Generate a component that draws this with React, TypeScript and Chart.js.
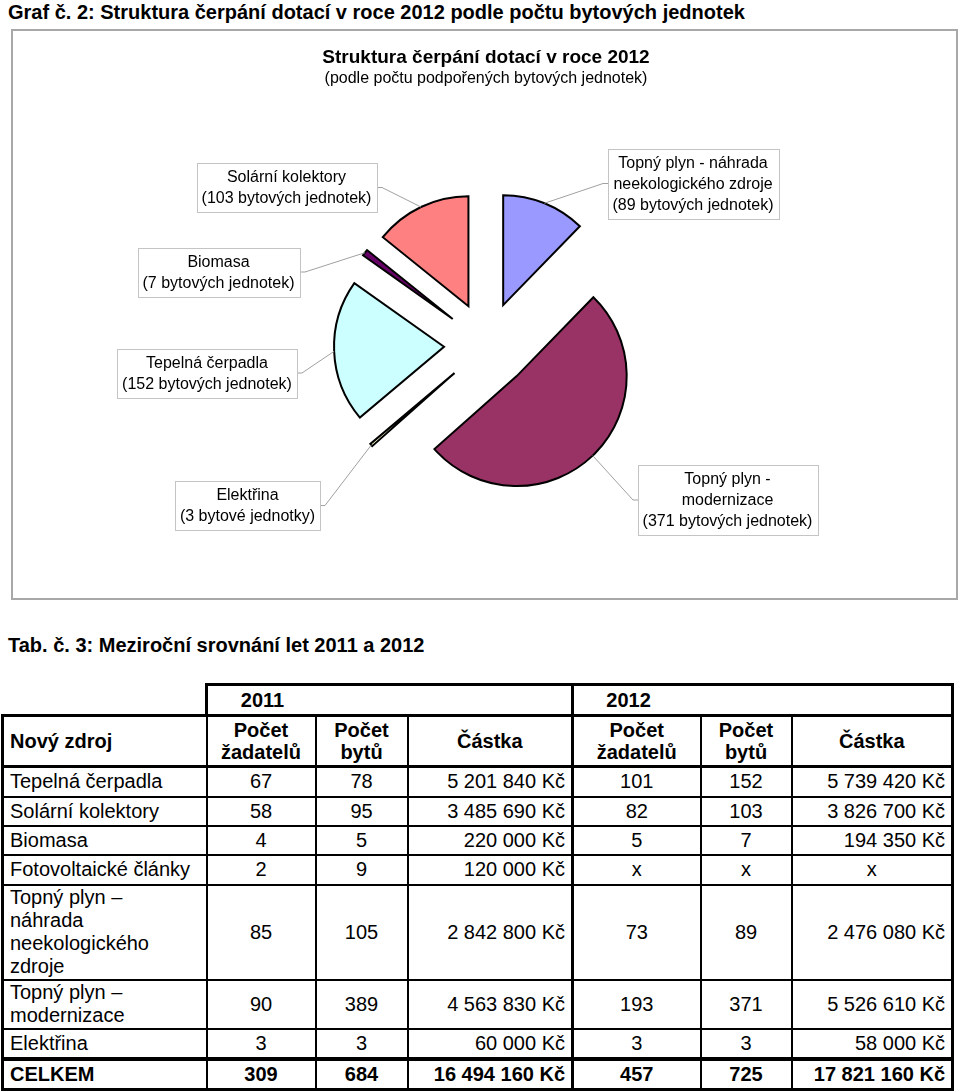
import React, { useEffect, useRef } from "react";
import { Chart, registerables } from "chart.js";

Chart.register(...registerables);

// ---------- Chart data ----------
const pageHeading = "Graf č. 2: Struktura čerpání dotací v roce 2012 podle počtu bytových jednotek";
const chartTitle = "Struktura čerpání dotací v roce 2012";
const chartSubtitle = "(podle počtu podpořených bytových jednotek)";

const categories = [
  "Topný plyn - náhrada neekologického zdroje",
  "Topný plyn - modernizace",
  "Elektřina",
  "Tepelná čerpadla",
  "Biomasa",
  "Solární kolektory",
];
const categoryLabelLines = [
  ["Topný plyn - náhrada", "neekologického zdroje"],
  ["Topný plyn -", "modernizace"],
  ["Elektřina"],
  ["Tepelná čerpadla"],
  ["Biomasa"],
  ["Solární kolektory"],
];
const unitCounts = [89, 371, 3, 152, 7, 103];
const unitWords = [
  "bytových jednotek",
  "bytových jednotek",
  "bytové jednotky",
  "bytových jednotek",
  "bytových jednotek",
  "bytových jednotek",
];

// ---------- Table data ----------
const tableHeading = "Tab. č. 3: Meziroční srovnání let 2011 a 2012";
const years = ["2011", "2012"];
const sourceColumnTitle = "Nový zdroj";
const subColumnTitles = ["Počet\nžadatelů", "Počet\nbytů", "Částka"];
const sources = [
  "Tepelná čerpadla",
  "Solární kolektory",
  "Biomasa",
  "Fotovoltaické články",
  "Topný plyn –\nnáhrada\nneekologického\nzdroje",
  "Topný plyn –\nmodernizace",
  "Elektřina",
];
const applicants2011 = [67, 58, 4, 2, 85, 90, 3];
const flats2011 = [78, 95, 5, 9, 105, 389, 3];
const amounts2011 = [5201840, 3485690, 220000, 120000, 2842800, 4563830, 60000];
const applicants2012 = [101, 82, 5, null, 73, 193, 3];
const flats2012 = [152, 103, 7, null, 89, 371, 3];
const amounts2012 = [5739420, 3826700, 194350, null, 2476080, 5526610, 58000];
const totalLabel = "CELKEM";
const totals2011 = [309, 684, 16494160];
const totals2012 = [457, 725, 17821160];

// ---------- Layout / style (not data) ----------
const FONT = '"Liberation Sans", Arial, Helvetica, sans-serif';
const sliceColors = ["#9999ff", "#993366", "#ffffcc", "#ccffff", "#660066", "#ff8080"];
const EXPLODE = 43;
const LABEL_LINE_H = 21;
const labelBoxes = [
  { cx: 693, cy: 183.5, side: "right" },
  { cx: 727.5, cy: 500, side: "right" },
  { cx: 247.5, cy: 505.5, side: "left" },
  { cx: 207, cy: 373, side: "left" },
  { cx: 218.5, cy: 272, side: "left" },
  { cx: 286.5, cy: 187.5, side: "left" },
];

const fmtMoney = (v: number | null) => {
  if (v === null || v === undefined) return "x";
  const s = String(v).replace(/\B(?=(\d{3})+(?!\d))/g, "\u00a0");
  return s + "\u00a0Kč";
};
const fmtNum = (v: number | null) => (v === null || v === undefined ? "x" : String(v));

const explodePlugin = {
  id: "explode",
  beforeDatasetsDraw(chart: any) {
    const ca = chart.chartArea;
    const cx = (ca.left + ca.right) / 2;
    const cy = (ca.top + ca.bottom) / 2;
    chart.getDatasetMeta(0).data.forEach((arc: any) => {
      const mid = (arc.startAngle + arc.endAngle) / 2;
      arc.x = cx + Math.cos(mid) * EXPLODE;
      arc.y = cy + Math.sin(mid) * EXPLODE;
    });
  },
};

const labelPlugin = {
  id: "pieLabels",
  afterDraw(chart: any) {
    const ctx = chart.ctx as CanvasRenderingContext2D;
    ctx.save();
    ctx.fillStyle = "#000";
    ctx.textAlign = "center";
    ctx.textBaseline = "middle";
    ctx.font = `bold 19px ${FONT}`;
    ctx.fillText(chartTitle, 486, 58);
    ctx.font = `16px ${FONT}`;
    ctx.fillText(chartSubtitle, 486, 79);

    const meta = chart.getDatasetMeta(0);
    meta.data.forEach((arc: any, i: number) => {
      const mid = (arc.startAngle + arc.endAngle) / 2;
      const ax = arc.x + Math.cos(mid) * arc.outerRadius;
      const ay = arc.y + Math.sin(mid) * arc.outerRadius;
      const box = labelBoxes[i];
      const lines = [...categoryLabelLines[i], `(${unitCounts[i]} ${unitWords[i]})`];
      ctx.font = `16px ${FONT}`;
      const w = Math.round(Math.max(...lines.map((l) => ctx.measureText(l).width)) + 10);
      const h = lines.length * LABEL_LINE_H + 7;
      const left = Math.round(box.cx - w / 2);
      const top = Math.round(box.cy - h / 2);
      const attachX = box.side === "left" ? left + w : left;
      const stubX = attachX + (box.side === "left" ? 5 : -5);
      ctx.strokeStyle = "#a0a0a0";
      ctx.lineWidth = 1;
      ctx.beginPath();
      ctx.moveTo(attachX, box.cy);
      ctx.lineTo(stubX, box.cy);
      ctx.lineTo(ax, ay);
      ctx.stroke();
      ctx.fillStyle = "#fff";
      ctx.fillRect(left, top, w, h);
      ctx.strokeStyle = "#c4c4c4";
      ctx.strokeRect(left + 0.5, top + 0.5, w, h);
      ctx.fillStyle = "#000";
      lines.forEach((l, k) => ctx.fillText(l, box.cx, top + 4 + LABEL_LINE_H * (k + 0.5)));
    });
    ctx.restore();
  },
};

function PieChart() {
  const ref = useRef<HTMLCanvasElement | null>(null);
  useEffect(() => {
    if (!ref.current) return;
    const chart = new Chart(ref.current, {
      type: "pie",
      data: {
        labels: categories,
        datasets: [
          {
            data: unitCounts,
            backgroundColor: sliceColors,
            borderColor: "#000",
            borderWidth: 2,
            borderJoinStyle: "miter",
            radius: 110,
          } as any,
        ],
      },
      options: {
        animation: false,
        responsive: false,
        events: [],
        layout: { padding: { left: 14, right: 0, top: 80, bottom: 0 } },
        plugins: {
          legend: { display: false },
          tooltip: { enabled: false },
          title: { display: false },
        },
      } as any,
      plugins: [explodePlugin, labelPlugin],
    });
    return () => chart.destroy();
  }, []);
  return (
    <canvas
      ref={ref}
      width={960}
      height={610}
      style={{ position: "absolute", left: 0, top: 0, width: 960, height: 610 }}
    />
  );
}

const B = "2px solid #000";
const BT = "3px solid #000";

function DataTable() {
  const colWidths = [204, 109, 92, 165, 128, 91, 161];
  const cell = (extra: React.CSSProperties = {}): React.CSSProperties => ({
    border: B,
    padding: "0 6px",
    textAlign: "center",
    verticalAlign: "middle",
    whiteSpace: "pre-line",
    ...extra,
  });
  const dataRowHeights = [30, 29, 29, 30, 95, 49, 30];
  return (
    <table
      style={{
        position: "absolute",
        left: 1,
        top: 683,
        width: 950,
        borderCollapse: "collapse",
        tableLayout: "fixed",
        fontFamily: FONT,
        fontSize: 20,
        lineHeight: "23px",
        color: "#000",
      }}
    >
      <colgroup>
        {colWidths.map((w, i) => (
          <col key={i} style={{ width: w }} />
        ))}
      </colgroup>
      <tbody>
        <tr style={{ height: 31 }}>
          <td style={{ border: "none", borderBottom: BT, padding: 0 }} />
          {years.map((y) => (
            <td key={y} colSpan={3} style={cell({ border: BT, padding: 0, textAlign: "left", fontWeight: "bold" })}>
              <div style={{ width: 109, textAlign: "center" }}>{y}</div>
            </td>
          ))}
        </tr>
        <tr style={{ height: 51 }}>
          <td style={cell({ borderLeft: BT, borderBottom: BT, textAlign: "left", fontWeight: "bold" })}>{sourceColumnTitle}</td>
          {[0, 1].map((g) =>
            subColumnTitles.map((t, k) => (
              <td
                key={`${g}-${k}`}
                style={cell({
                  fontWeight: "bold",
                  borderBottom: BT,
                  borderRight: k === 2 ? BT : B,
                  lineHeight: "22px",
                })}
              >
                {t}
              </td>
            ))
          )}
        </tr>
        {sources.map((s, i) => (
          <tr key={s} style={{ height: dataRowHeights[i] }}>
            <td style={cell({ borderLeft: BT, textAlign: "left" })}>{s}</td>
            <td style={cell()}>{fmtNum(applicants2011[i])}</td>
            <td style={cell()}>{fmtNum(flats2011[i])}</td>
            <td style={cell({ textAlign: "right", borderRight: BT })}>{fmtMoney(amounts2011[i])}</td>
            <td style={cell()}>{fmtNum(applicants2012[i])}</td>
            <td style={cell()}>{fmtNum(flats2012[i])}</td>
            <td style={cell({ textAlign: amounts2012[i] === null ? "center" : "right", borderRight: BT })}>
              {fmtMoney(amounts2012[i])}
            </td>
          </tr>
        ))}
        <tr style={{ height: 31, fontWeight: "bold" }}>
          <td style={cell({ borderLeft: BT, borderTop: "4px solid #000", borderBottom: BT, textAlign: "left" })}>{totalLabel}</td>
          <td style={cell({ borderTop: "4px solid #000", borderBottom: BT })}>{totals2011[0]}</td>
          <td style={cell({ borderTop: "4px solid #000", borderBottom: BT })}>{totals2011[1]}</td>
          <td style={cell({ borderTop: "4px solid #000", borderBottom: BT, borderRight: BT, textAlign: "right" })}>{fmtMoney(totals2011[2])}</td>
          <td style={cell({ borderTop: "4px solid #000", borderBottom: BT })}>{totals2012[0]}</td>
          <td style={cell({ borderTop: "4px solid #000", borderBottom: BT })}>{totals2012[1]}</td>
          <td style={cell({ borderTop: "4px solid #000", borderBottom: BT, borderRight: BT, textAlign: "right" })}>{fmtMoney(totals2012[2])}</td>
        </tr>
      </tbody>
    </table>
  );
}

export default function App() {
  return (
    <div
      style={{
        position: "absolute",
        left: 0,
        top: 0,
        width: 960,
        height: 1092,
        background: "#fff",
        fontFamily: FONT,
        color: "#000",
        overflow: "hidden",
      }}
    >
      <div
        style={{
          position: "absolute",
          left: 8,
          top: 0,
          fontWeight: "bold",
          fontSize: 20,
          lineHeight: "24px",
          whiteSpace: "nowrap",
        }}
      >
        {pageHeading}
      </div>
      <div
        style={{
          position: "absolute",
          left: 11,
          top: 29,
          width: 947,
          height: 571,
          border: "2px solid #a8a8a8",
          boxSizing: "border-box",
        }}
      />
      <PieChart />
      <div
        style={{
          position: "absolute",
          left: 8,
          top: 633,
          fontWeight: "bold",
          fontSize: 20,
          lineHeight: "24px",
          whiteSpace: "nowrap",
        }}
      >
        {tableHeading}
      </div>
      <DataTable />
    </div>
  );
}
